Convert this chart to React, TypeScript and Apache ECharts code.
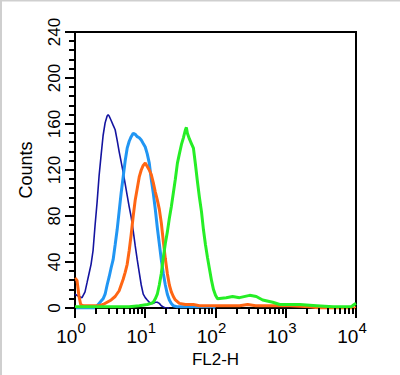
import React, { useEffect, useRef } from "react";
import * as echarts from "echarts";

const yMajorTicks = [0, 40, 80, 120, 160, 200, 240];
const xMajorTicks = [1, 10, 100, 1000, 10000];
const xMinorTicks = [
  2, 3, 4, 5, 6, 7, 8, 9,
  20, 30, 40, 50, 60, 70, 80, 90,
  200, 300, 400, 500, 600, 700, 800, 900,
  2000, 3000, 4000, 5000, 6000, 7000, 8000, 9000,
];
const yMinorTicks = [
  8, 16, 24, 32, 48, 56, 64, 72, 88, 96, 104, 112, 128, 136, 144, 152,
  168, 176, 184, 192, 208, 216, 224, 232,
];

const darkBlue: [number, number][] = [
  [1.0, 12], [1.141, 10], [1.259, 9], [1.389, 14], [1.484, 22], [1.585, 30], [1.693, 38],
  [1.808, 50], [1.931, 72], [2.063, 92], [2.203, 115], [2.353, 133], [2.512, 150],
  [2.683, 161], [2.866, 167], [2.961, 168], [3.061, 167], [3.27, 163], [3.49, 159],
  [3.73, 155], [3.98, 146], [4.25, 136], [4.54, 127], [4.85, 118], [5.18, 108],
  [5.53, 98], [5.91, 88], [6.31, 79], [6.74, 67], [7.2, 54], [7.69, 42], [8.21, 31],
  [8.77, 20], [9.36, 12], [10.0, 9], [10.68, 7], [11.41, 5], [12.18, 4], [13.01, 4],
  [13.89, 5], [14.84, 5], [15.85, 4], [16.93, 2], [18.08, 1], [19.31, 0], [22.03, 0],
];

const lightBlue: [number, number][] = [
  [1.0, 0], [1.931, 0], [2.063, 2], [2.203, 4], [2.353, 6], [2.512, 8], [2.683, 12],
  [2.866, 20], [3.061, 27], [3.27, 35], [3.49, 42], [3.73, 55], [3.98, 68], [4.25, 84],
  [4.54, 100], [4.85, 114], [5.18, 128], [5.53, 139], [5.91, 145], [6.31, 149],
  [6.74, 152], [7.2, 151], [7.69, 149], [8.21, 148], [8.77, 146], [9.36, 143],
  [10.0, 140], [10.68, 134], [11.41, 126], [12.18, 112], [13.01, 100], [13.89, 86],
  [14.84, 70], [15.85, 56], [16.93, 42], [18.08, 30], [19.31, 20], [20.63, 12],
  [22.03, 7], [23.5, 4], [25.1, 2], [28.7, 1], [82, 1], [100, 0],
];

const orange: [number, number][] = [
  [1.0, 26], [1.068, 24], [1.141, 10], [1.205, 3], [1.3, 2], [2.203, 2], [2.512, 3],
  [2.866, 5], [3.27, 7], [3.73, 10], [4.25, 15], [4.54, 20], [4.85, 25], [5.18, 31],
  [5.53, 38], [5.91, 50], [6.31, 64], [6.74, 80], [7.2, 94], [7.69, 104], [8.21, 114],
  [8.77, 120], [9.36, 124], [10.0, 126], [10.68, 123], [11.41, 120], [12.18, 116],
  [13.01, 109], [13.89, 101], [14.84, 94], [15.85, 86], [16.93, 74], [18.08, 58],
  [19.31, 43], [20.63, 30], [22.03, 20], [23.5, 14], [25.1, 10], [26.8, 7], [30.6, 4],
  [37.3, 3], [48.5, 3], [59.1, 2], [114, 2], [220, 2], [287, 3], [373, 2], [591, 2],
  [1141, 2], [2203, 1], [3061, 0], [10000, 0],
];

const green: [number, number][] = [
  [1.0, 1], [5.91, 1], [8.21, 2], [10.68, 3], [12.18, 4], [13.01, 5], [13.89, 8],
  [14.84, 12], [15.85, 20], [16.93, 30], [18.08, 44], [19.31, 56], [20.63, 66],
  [22.03, 78], [23.5, 88], [25.1, 100], [26.8, 112], [28.7, 126], [30.6, 134],
  [32.7, 142], [34.9, 148], [37.3, 155], [38.5, 157], [39.8, 152], [42.5, 147],
  [45.4, 143], [48.5, 139], [51.8, 125], [55.3, 110], [59.1, 96], [63.1, 84],
  [67.4, 68], [72.0, 55], [76.9, 44], [82.1, 34], [87.7, 24], [93.6, 16], [100, 11],
  [106.8, 8], [142, 9], [175, 10], [220, 9], [306, 11], [381, 10], [469, 7], [652, 5],
  [821, 3], [1585, 3], [2745, 2], [4693, 1], [8500, 1], [9400, 3], [10000, 4],
];

const FONT = "Liberation Sans, Arial, Helvetica, sans-serif";
const INK = "#000000";

export default function App() {
  const ref = useRef<HTMLDivElement>(null);
  useEffect(() => {
    document.body.style.margin = "0";
    const chart = echarts.init(ref.current!, null, { renderer: "svg" });
    const line = (data: [number, number][], color: string, width: number) => ({
      type: "line",
      data,
      showSymbol: false,
      symbol: "none",
      lineStyle: { color, width },
      itemStyle: { color },
    });
    chart.setOption({
      animation: false,
      backgroundColor: "#fff",
      grid: {
        left: 75,
        right: 44,
        top: 32,
        bottom: 67,
        show: true,
        borderColor: INK,
        borderWidth: 2,
      },
      xAxis: {
        type: "log",
        logBase: 10,
        min: 1,
        max: 10000,
        name: "FL2-H",
        nameLocation: "middle",
        nameGap: 36,
        nameTextStyle: { fontSize: 17, color: "#000", fontFamily: FONT },
        axisLine: { show: true, lineStyle: { color: INK, width: 2 } },
        axisTick: { show: false },
        splitLine: { show: false },
        axisLabel: {
          margin: 12,
          padding: [0, 8, 0, 0],
          formatter: (v: number) => `{b|10}{s|${Math.round(Math.log10(v))}}`,
          rich: {
            b: { fontSize: 19, color: "#000", fontFamily: FONT },
            s: { fontSize: 15, color: "#000", fontFamily: FONT, padding: [0, 0, 18, 0] },
          },
        },
      },
      yAxis: {
        type: "value",
        min: 0,
        max: 240,
        interval: 40,
        name: "Counts",
        nameLocation: "middle",
        nameGap: 40,
        nameRotate: 90,
        nameTextStyle: { fontSize: 18, color: "#000", fontFamily: FONT },
        axisLine: { show: true, lineStyle: { color: INK, width: 2 } },
        axisTick: { show: false },
        minorTick: { show: false },
        splitLine: { show: false },
        minorSplitLine: { show: false },
        axisLabel: {
          rotate: 90,
          margin: 12,
          fontSize: 17,
          color: "#000",
          fontFamily: FONT,
        },
      },
      series: [
        line(darkBlue, "#1414a0", 1.6),
        line(lightBlue, "#2196f3", 3),
        line(orange, "#ff6614", 3),
        line(green, "#26ee26", 3),
      ],
    });
    // tick marks placed through the axis scales
    const y0 = chart.convertToPixel({ yAxisIndex: 0 }, 0) as number;
    const x0 = chart.convertToPixel({ xAxisIndex: 0 }, 1) as number;
    const xTick = (v: number, len: number) => {
      const x = chart.convertToPixel({ xAxisIndex: 0 }, v) as number;
      return {
        type: "rect",
        z: 100,
        shape: { x: Math.round(x) - 1, y: Math.round(y0), width: 2, height: len },
        style: { fill: INK },
      };
    };
    const yTick = (v: number, len: number) => {
      const y = chart.convertToPixel({ yAxisIndex: 0 }, v) as number;
      return {
        type: "rect",
        z: 100,
        shape: { x: Math.round(x0) - len, y: Math.round(y) - 1, width: len, height: 2 },
        style: { fill: INK },
      };
    };
    chart.setOption({
      graphic: {
        elements: [
          { type: "rect", shape: { x: 0, y: 0, width: 400, height: 1.5 }, style: { fill: "#cfcfcf" } },
          { type: "rect", shape: { x: 0, y: 0, width: 2, height: 375 }, style: { fill: "#cfcfcf" } },
          ...xMajorTicks.map((v) => xTick(v, 10)),
          ...xMinorTicks.map((v) => xTick(v, 6)),
          ...yMajorTicks.map((v) => yTick(v, 10)),
          ...yMinorTicks.map((v) => yTick(v, 6)),
        ],
      },
    });
    return () => chart.dispose();
  }, []);
  return <div ref={ref} style={{ width: 400, height: 375 }} />;
}
